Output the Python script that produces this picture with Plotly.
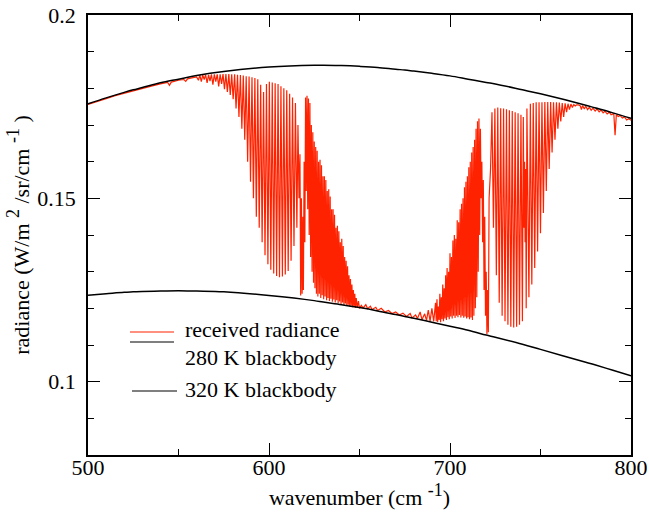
import plotly.graph_objects as go

# ---- Blackbody curves ----
bb_wn = [500, 510, 520, 525, 530, 540, 550, 560, 575, 600, 625, 630, 640, 650, 660, 670, 675, 680,
         690, 700, 710, 720, 725, 740, 750, 775, 780, 790, 800]
bb280 = [0.1236, 0.1240, 0.1244, 0.1245, 0.1246, 0.1247, 0.1248, 0.1247, 0.1245, 0.1235, 0.1221,
         0.1217, 0.1210, 0.1202, 0.1193, 0.1183, 0.1178, 0.1173, 0.1162, 0.1151, 0.1140, 0.1127,
         0.1121, 0.1102, 0.1088, 0.1053, 0.1046, 0.1031, 0.1016]
bb320 = [0.1758, 0.1774, 0.1789, 0.1796, 0.1802, 0.1815, 0.1825, 0.1835, 0.1846, 0.1858, 0.1863,
         0.1863, 0.1862, 0.1860, 0.1857, 0.1852, 0.1850, 0.1847, 0.1841, 0.1834, 0.1825, 0.1816,
         0.1812, 0.1796, 0.1785, 0.1754, 0.1747, 0.1733, 0.1718]

# ---- Received radiance spectrum, by region ----
wn_a = [500, 505, 510, 515, 520, 525, 530, 535, 540, 544, 545, 546, 550, 553, 554, 555, 558]
rad_a = [0.1756, 0.1765, 0.1772, 0.1780, 0.1787, 0.1794, 0.1800, 0.1806, 0.1812, 0.1816, 0.1808,
         0.1817, 0.1822, 0.1824, 0.1819, 0.1826, 0.1829]

wn_b = [560.0, 561.0, 561.8, 562.6, 563.4, 564.2, 565.0, 565.8, 566.6, 567.4, 568.2, 569.0, 569.8,
        570.6, 571.4, 572.2, 573.0, 573.8, 574.6, 575.4, 576.2, 577.0, 577.8, 578.6, 579.4, 580.2,
        581.0, 581.8, 582.6, 583.4, 584.2, 585.0, 585.8, 586.6, 587.4, 588.2, 589.0, 589.8, 590.6,
        591.4, 592.2, 593.0, 593.8, 594.6, 595.4, 596.2, 597.0, 597.8, 598.6, 599.4, 600.2, 601.0,
        601.8, 602.6, 603.4, 604.2, 605.0, 605.8, 606.6, 607.4, 608.2, 609.0, 609.8, 610.6, 611.4,
        612.2, 613.0, 613.8, 614.6, 615.4, 616.0, 616.6, 617.1, 617.5, 617.9, 618.3, 618.7]
rad_b = [0.1831, 0.1822, 0.1836, 0.1818, 0.1836, 0.1824, 0.1837, 0.1815, 0.1837, 0.1820, 0.1838,
         0.1810, 0.1838, 0.1818, 0.1838, 0.1805, 0.1838, 0.1812, 0.1839, 0.1798, 0.1839, 0.1790,
         0.1839, 0.1782, 0.1838, 0.1770, 0.1838, 0.1745, 0.1837, 0.1722, 0.1836, 0.1690, 0.1835,
         0.1660, 0.1833, 0.1600, 0.1832, 0.1545, 0.1830, 0.1500, 0.1828, 0.1450, 0.1825, 0.1420,
         0.1810, 0.1380, 0.1790, 0.1345, 0.1812, 0.1320, 0.1818, 0.1305, 0.1816, 0.1295, 0.1814,
         0.1288, 0.1812, 0.1285, 0.1806, 0.1287, 0.1800, 0.1292, 0.1795, 0.1302, 0.1785, 0.1330,
         0.1775, 0.1370, 0.1760, 0.1420, 0.1700, 0.1500, 0.1620, 0.1235, 0.1500, 0.1240, 0.1450]

wn_c = [619.0, 619.4, 619.8, 620.2, 620.6, 621.0, 621.4, 621.8, 622.2, 622.6, 623.0, 623.4, 623.8,
        624.2, 624.6, 625.0, 625.4, 625.8, 626.2, 626.6, 627.0, 627.4, 627.8, 628.2, 628.6, 629.0,
        629.4, 629.8, 630.2, 630.6, 631.0, 631.4, 631.8, 632.2, 632.6, 633.0, 633.4, 633.8, 634.2,
        634.6, 635.0, 635.4, 635.8, 636.2, 636.6, 637.0, 637.4, 637.8, 638.2, 638.6, 639.0, 639.4,
        639.8, 640.2, 640.6, 641.0, 641.4, 641.8, 642.2, 642.6, 643.0, 643.4, 643.8, 644.2, 644.6,
        645.0, 645.4, 645.8, 646.2, 646.6, 647.0, 647.4, 647.8, 648.2, 648.8, 649.4, 650.0]
rad_c = [0.1250, 0.1600, 0.1380, 0.1775, 0.1520, 0.1780, 0.1470, 0.1772, 0.1400, 0.1760, 0.1340,
         0.1700, 0.1300, 0.1680, 0.1270, 0.1655, 0.1255, 0.1640, 0.1240, 0.1630, 0.1232, 0.1600,
         0.1240, 0.1605, 0.1228, 0.1590, 0.1236, 0.1560, 0.1225, 0.1560, 0.1232, 0.1550, 0.1222,
         0.1520, 0.1228, 0.1525, 0.1220, 0.1505, 0.1226, 0.1470, 0.1218, 0.1470, 0.1224, 0.1455,
         0.1216, 0.1420, 0.1222, 0.1425, 0.1214, 0.1410, 0.1219, 0.1380, 0.1212, 0.1390, 0.1216,
         0.1370, 0.1209, 0.1340, 0.1213, 0.1330, 0.1207, 0.1315, 0.1210, 0.1290, 0.1205, 0.1280,
         0.1207, 0.1265, 0.1203, 0.1250, 0.1205, 0.1240, 0.1201, 0.1228, 0.1202, 0.1220, 0.1200]

wn_d = [651.0, 652.0, 653.5, 654.5, 656.0, 657.0, 659.0, 660.0, 662.0, 664.0, 666.0, 668.0, 670.0,
        672.0, 674.0, 676.0, 678.0, 679.0, 681.0, 682.0, 683.5, 684.5, 686.0, 687.0, 688.0, 689.0,
        690.0, 691.0]
rad_d = [0.1208, 0.1201, 0.1210, 0.1199, 0.1206, 0.1197, 0.1203, 0.1194, 0.1200, 0.1190, 0.1194,
         0.1186, 0.1190, 0.1182, 0.1187, 0.1178, 0.1186, 0.1174, 0.1182, 0.1172, 0.1190, 0.1169,
         0.1185, 0.1167, 0.1195, 0.1165, 0.1200, 0.1164]

wn_e = [692.0, 692.4, 692.8, 693.2, 693.6, 694.0, 694.4, 694.8, 695.2, 695.6, 696.0, 696.4, 696.8,
        697.2, 697.6, 698.0, 698.4, 698.8, 699.2, 699.6, 700.0, 700.4, 700.8, 701.2, 701.6, 702.0,
        702.4, 702.8, 703.2, 703.6, 704.0, 704.4, 704.8, 705.2, 705.6, 706.0, 706.4, 706.8, 707.2,
        707.6, 708.0, 708.4, 708.8, 709.2, 709.6, 710.0, 710.4, 710.8, 711.2, 711.6, 712.0, 712.4,
        712.8, 713.2, 713.6, 714.0, 714.4, 714.8, 715.2, 715.6, 716.0, 716.4, 716.8, 717.2, 717.6,
        718.0, 718.4, 718.8, 719.2, 719.6, 720.0, 720.4, 720.8, 721.2, 721.6]
rad_e = [0.1215, 0.1165, 0.1225, 0.1163, 0.1205, 0.1168, 0.1240, 0.1162, 0.1230, 0.1170, 0.1265,
         0.1165, 0.1255, 0.1172, 0.1290, 0.1168, 0.1310, 0.1176, 0.1300, 0.1170, 0.1350, 0.1178,
         0.1340, 0.1172, 0.1385, 0.1180, 0.1400, 0.1174, 0.1390, 0.1180, 0.1440, 0.1176, 0.1435,
         0.1182, 0.1470, 0.1175, 0.1485, 0.1180, 0.1500, 0.1174, 0.1530, 0.1178, 0.1545, 0.1172,
         0.1560, 0.1176, 0.1585, 0.1170, 0.1600, 0.1175, 0.1625, 0.1168, 0.1640, 0.1180, 0.1660,
         0.1200, 0.1690, 0.1230, 0.1710, 0.1300, 0.1718, 0.1400, 0.1690, 0.1500, 0.1600, 0.1380,
         0.1550, 0.1250, 0.1450, 0.1180, 0.1300, 0.1130, 0.1250, 0.1135, 0.1500]

wn_f = [722.4, 723.2, 724.0, 724.8, 725.6, 726.4, 727.2, 728.0, 728.8, 729.6, 730.4, 731.2, 732.0,
        732.8, 733.6, 734.4, 735.2, 736.0, 736.8, 737.6, 738.4, 739.2, 740.0, 740.5, 740.9, 741.2,
        741.5, 741.8, 742.1, 742.5, 743.6, 744.4, 745.2, 746.0, 746.8, 747.6, 748.4, 749.2, 750.0,
        750.8, 751.6, 752.4, 753.2, 754.0, 754.8, 755.6, 756.4, 757.2, 758.0, 758.8, 759.6, 760.4,
        761.2, 762.0, 762.8, 763.6, 764.4, 765.2, 766.0, 766.8, 767.6, 768.4, 769.2, 770.0, 770.8]
rad_f = [0.1580, 0.1735, 0.1420, 0.1745, 0.1290, 0.1748, 0.1215, 0.1746, 0.1180, 0.1745, 0.1165,
         0.1743, 0.1155, 0.1740, 0.1150, 0.1738, 0.1148, 0.1735, 0.1150, 0.1732, 0.1155, 0.1728,
         0.1165, 0.1722, 0.1420, 0.1600, 0.1380, 0.1580, 0.1200, 0.1745, 0.1230, 0.1758, 0.1265,
         0.1760, 0.1310, 0.1762, 0.1355, 0.1762, 0.1405, 0.1762, 0.1460, 0.1763, 0.1520, 0.1763,
         0.1580, 0.1763, 0.1625, 0.1762, 0.1660, 0.1762, 0.1690, 0.1761, 0.1710, 0.1760, 0.1722,
         0.1759, 0.1735, 0.1758, 0.1742, 0.1757, 0.1748, 0.1756, 0.1752, 0.1755, 0.1755]

wn_g = [772.0, 772.6, 773.2, 774.2, 775.0, 776.0, 777.0, 778.0, 779.0, 780.2, 781.2, 782.4, 783.4,
        784.6, 785.6, 786.8, 788.0, 789.0, 790.5, 791.2, 791.9, 793.0, 794.0, 795.2, 796.4, 797.6,
        798.8, 800.0]
rad_g = [0.1752, 0.1742, 0.1753, 0.1744, 0.1751, 0.1742, 0.1748, 0.1740, 0.1746, 0.1738, 0.1744,
         0.1736, 0.1741, 0.1733, 0.1738, 0.1730, 0.1735, 0.1728, 0.1731, 0.1672, 0.1728, 0.1723,
         0.1726, 0.1719, 0.1722, 0.1714, 0.1717, 0.1713]

recv_wn = wn_a + wn_b + wn_c + wn_d + wn_e + wn_f + wn_g
recv_rad = rad_a + rad_b + rad_c + rad_d + rad_e + rad_f + rad_g

RED = "#ff2200"
FONT = "Liberation Serif"
FS = 22

fig = go.Figure()
fig.add_trace(go.Scatter(x=recv_wn, y=recv_rad, mode="lines",
                         line=dict(color=RED, width=1.2), showlegend=False))
fig.add_trace(go.Scatter(x=bb_wn, y=bb280, mode="lines", line=dict(color="black", width=1.5, shape="spline"),
                         showlegend=False))
fig.add_trace(go.Scatter(x=bb_wn, y=bb320, mode="lines", line=dict(color="black", width=1.5, shape="spline"),
                         showlegend=False))

axis_common = dict(showline=True, linecolor="black", linewidth=1.5, mirror="allticks",
                   ticks="inside", ticklen=12, tickwidth=1.2, tickcolor="black",
                   showgrid=False, zeroline=False, automargin=False, ticklabeloverflow="allow",
                   tickfont=dict(family=FONT, size=FS, color="black"))

SUP = '<sup><span style="font-size:18px">%s</span></sup>'

fig.update_xaxes(range=[500, 800], tickvals=[500, 600, 700, 800], ticktext=["500", "600", "700", "800"],
                 minor=dict(dtick=50, ticklen=6, ticks="inside", tickcolor="black", tickwidth=1.2),
                 ticklabelstandoff=-8,
                 title=dict(text="wavenumber (cm " + SUP % "-1" + ")",
                            font=dict(family=FONT, size=FS, color="black"), standoff=4),
                 **axis_common)
fig.update_yaxes(range=[0.08, 0.2], tickvals=[0.1, 0.15, 0.2], ticktext=["0.1", "0.15", "0.2"],
                 minor=dict(dtick=0.01, ticklen=6, ticks="inside", tickcolor="black", tickwidth=1.2),
                 ticklabelstandoff=6,
                 title=dict(text="radiance (W/m&nbsp;" + SUP % "2" + "&nbsp;/sr/cm&nbsp;" + SUP % "-1"
                                 + "&nbsp;)",
                            font=dict(family=FONT, size=FS, color="black"), standoff=2),
                 **axis_common)

# ---- hand-placed legend (paper coordinates of the plot area) ----
def px_x(x):
    return (x - 88) / 543.0

def px_y(y):
    return (455 - y) / 440.0

legend_lines = [(130, 174, 332, RED), (130, 174, 342, "black"), (132, 177, 391, "black")]
for x0, x1, y, c in legend_lines:
    fig.add_shape(type="line", xref="paper", yref="paper", x0=px_x(x0), x1=px_x(x1),
                  y0=px_y(y), y1=px_y(y), line=dict(color=c, width=1.2))

legend_texts = [("received radiance", 330), ("280 K blackbody", 357), ("320 K blackbody", 389)]
for t, y in legend_texts:
    fig.add_annotation(text=t, xref="paper", yref="paper", x=px_x(183), y=px_y(y),
                       xanchor="left", yanchor="middle", showarrow=False,
                       font=dict(family=FONT, size=FS, color="black"))

fig.update_layout(width=649, height=514, margin=dict(l=88, r=18, t=15, b=59),
                  plot_bgcolor="white", paper_bgcolor="white",
                  font=dict(family=FONT, size=FS, color="black"))

fig.write_html("out.html", config={"displayModeBar": False},
               post_script="document.body.style.margin='0';document.body.style.overflow='hidden';")
